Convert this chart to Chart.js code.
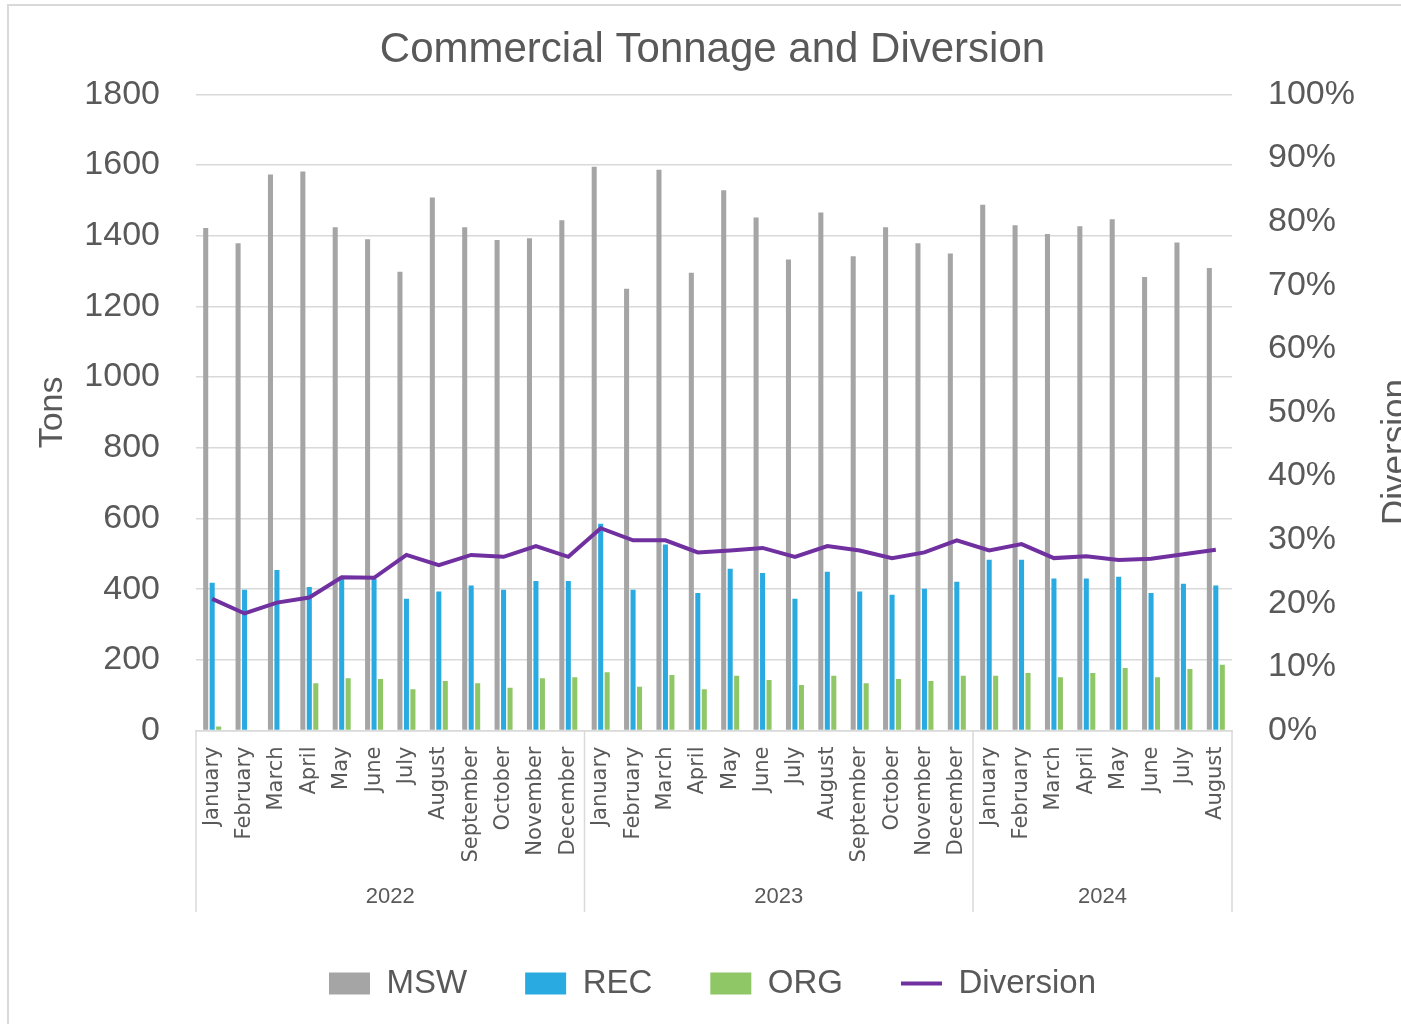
<!DOCTYPE html>
<html>
<head>
<meta charset="UTF-8">
<title>Commercial Tonnage and Diversion</title>
<script src="https://cdn.jsdelivr.net/npm/chart.js"></script>
<style>
    body { margin: 0; overflow: hidden; background: #fff; }
    #frame {
        position: absolute; left: 7px; top: 4px;
        width: 1500px; height: 1100px;
        border: 2px solid #d9d9d9;
    }
    #chart-box { position: absolute; left: 0; top: 0; width: 1401px; height: 1024px; }
</style>
</head>
<body>
<div id="frame"></div>
<div id="chart-box"><canvas id="chart"></canvas></div>
<script>
    const monthNames = ["January", "February", "March", "April", "May", "June",
        "July", "August", "September", "October", "November", "December"];
    const yearLabels = ["2022", "2023", "2024"];
    const monthsPerYear = [12, 12, 8];

    const categories = [];
    yearLabels.forEach((y, i) => {
        for (let m = 0; m < monthsPerYear[i]; m++) categories.push(monthNames[m]);
    });

    // tons per month
    const msw = [1422, 1379, 1573, 1582, 1424, 1390, 1298, 1508, 1424, 1388, 1393, 1444,
        1595, 1250, 1587, 1295, 1529, 1452, 1333, 1466, 1342, 1424, 1379, 1350,
        1488, 1430, 1405, 1427, 1447, 1283, 1381, 1309];
    const rec = [418, 398, 454, 406, 435, 429, 373, 393, 410, 398, 423, 423,
        585, 398, 526, 389, 458, 446, 373, 449, 393, 384, 401, 421,
        483, 483, 430, 430, 435, 389, 415, 410];
    const org = [11, 0, 0, 134, 148, 146, 117, 140, 134, 121, 148, 151,
        165, 124, 157, 117, 155, 143, 129, 155, 134, 146, 140, 155,
        155, 163, 151, 163, 177, 151, 174, 186];
    // diversion rate, percent
    const diversion = [20.7, 18.4, 20.1, 20.9, 24.1, 24.0, 27.6, 26.0, 27.6, 27.3, 29.0, 27.3,
        31.8, 29.9, 29.9, 28.0, 28.3, 28.7, 27.3, 29.0, 28.3, 27.1, 28.0, 29.9,
        28.3, 29.3, 27.1, 27.4, 26.8, 27.0, 27.7, 28.4];

    const textColor = "#595959";
    const gridColor = "#d9d9d9";

    // second row of the category axis: year names and group separators
    const yearAxis = {
        id: "yearAxis",
        afterDraw(chart) {
            const ctx = chart.ctx;
            const x = chart.scales.x;
            const half = (x.getPixelForValue(1) - x.getPixelForValue(0)) / 2;
            const top = chart.chartArea.bottom;
            const bottom = 912;
            ctx.save();
            ctx.strokeStyle = gridColor;
            ctx.lineWidth = 1.5;
            ctx.fillStyle = textColor;
            ctx.font = "22px 'Liberation Sans'";
            ctx.textAlign = "center";
            ctx.textBaseline = "middle";
            let start = 0;
            yearLabels.forEach((label, i) => {
                const end = start + monthsPerYear[i] - 1;
                const left = x.getPixelForValue(start) - half;
                const right = x.getPixelForValue(end) + half;
                ctx.beginPath();
                ctx.moveTo(left, top);
                ctx.lineTo(left, bottom);
                if (i === yearLabels.length - 1) {
                    ctx.moveTo(right, top);
                    ctx.lineTo(right, bottom);
                }
                ctx.stroke();
                ctx.fillText(label, (left + right) / 2, 897);
                start = end + 1;
            });
            ctx.restore();
        }
    };

    // right axis title reads bottom to top
    const rightTitle = {
        id: "rightTitle",
        afterDraw(chart) {
            const ctx = chart.ctx;
            ctx.save();
            ctx.translate(1396, 452);
            ctx.rotate(-Math.PI / 2);
            ctx.fillStyle = textColor;
            ctx.font = "35px 'Liberation Sans'";
            ctx.textAlign = "center";
            ctx.textBaseline = "middle";
            ctx.fillText("Diversion", 0, 0);
            ctx.restore();
        }
    };

    new Chart(document.getElementById("chart"), {
        type: "bar",
        data: {
            labels: categories,
            datasets: [
                {label: "MSW", data: msw, backgroundColor: "#a5a5a5", borderColor: "#a5a5a5",
                    borderWidth: 0, pointStyle: "rect", yAxisID: "y", order: 1},
                {label: "REC", data: rec, backgroundColor: "#29abe2", borderColor: "#29abe2",
                    borderWidth: 0, pointStyle: "rect", yAxisID: "y", order: 1},
                {label: "ORG", data: org, backgroundColor: "#8fc666", borderColor: "#8fc666",
                    borderWidth: 0, pointStyle: "rect", yAxisID: "y", order: 1},
                {type: "line", label: "Diversion", data: diversion, borderColor: "#7030a0",
                    backgroundColor: "#7030a0", borderWidth: 4, pointRadius: 0, pointStyle: "line",
                    tension: 0, yAxisID: "y1", order: 0}
            ]
        },
        options: {
            responsive: true,
            maintainAspectRatio: false,
            animation: false,
            categoryPercentage: 0.6,
            barPercentage: 0.78,
            layout: {padding: {left: 24, right: 0, top: 0, bottom: 14}},
            plugins: {
                tooltip: {enabled: false},
                title: {
                    display: true,
                    text: "Commercial Tonnage and Diversion",
                    color: textColor,
                    font: {family: "'Liberation Sans'", size: 42, weight: "normal"},
                    padding: {top: 25, bottom: 19}
                },
                legend: {
                    position: "bottom",
                    labels: {
                        color: textColor,
                        font: {family: "'Liberation Sans'", size: 33},
                        usePointStyle: true,
                        pointStyleWidth: 41,
                        boxHeight: 22,
                        padding: 58,
                        sort: (a, b) => a.datasetIndex - b.datasetIndex
                    }
                }
            },
            scales: {
                x: {
                    grid: {display: false},
                    border: {display: true, color: gridColor, width: 1.5},
                    ticks: {
                        color: textColor,
                        font: {family: "'DejaVu Sans'", size: 21},
                        minRotation: 90,
                        maxRotation: 90,
                        autoSkip: false,
                        padding: 8
                    },
                    afterFit(scale) { scale.height = 178.5; }
                },
                y: {
                    position: "left",
                    min: 0,
                    max: 1800,
                    ticks: {
                        stepSize: 200,
                        color: textColor,
                        font: {family: "'Liberation Sans'", size: 34},
                        padding: 36,
                        callback: v => String(v)
                    },
                    grid: {color: gridColor, lineWidth: 1.5, drawTicks: false},
                    border: {display: false},
                    title: {
                        display: true,
                        text: "Tons",
                        color: textColor,
                        font: {family: "'Liberation Sans'", size: 34},
                        padding: {top: 8, bottom: 0}
                    },
                    afterFit(scale) { scale.width = 172; }
                },
                y1: {
                    position: "right",
                    min: 0,
                    max: 100,
                    ticks: {
                        stepSize: 10,
                        color: textColor,
                        font: {family: "'Liberation Sans'", size: 34},
                        padding: 36,
                        callback: v => v + "%"
                    },
                    grid: {display: false, drawTicks: false},
                    border: {display: false},
                    afterFit(scale) { scale.width = 169; }
                }
            }
        },
        plugins: [yearAxis, rightTitle]
    });
</script>
</body>
</html>
